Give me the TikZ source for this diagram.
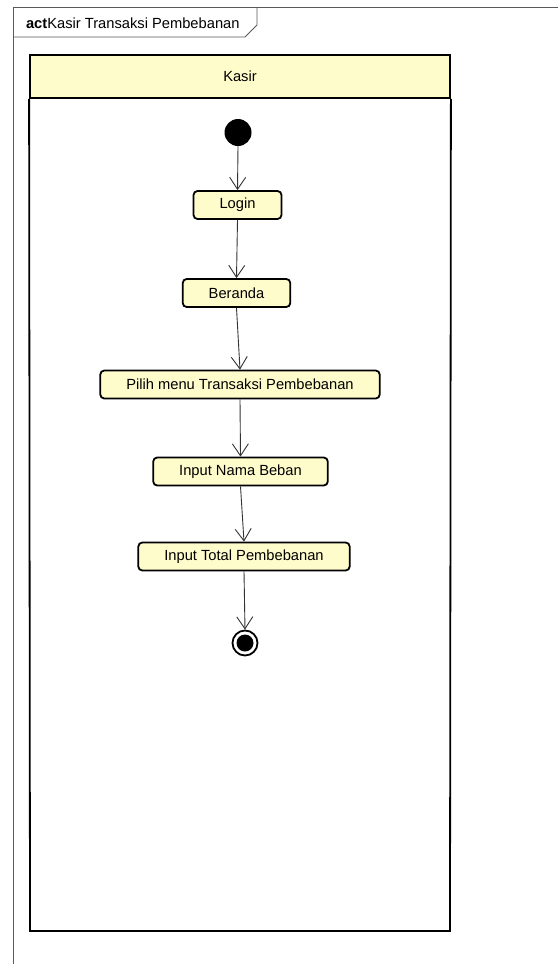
\documentclass[tikz,border=0pt]{standalone}
\usepackage{fontspec}
\setmainfont{Liberation Sans}
\usetikzlibrary{arrows.meta}

\definecolor{actfill}{HTML}{FFFCCC}

\tikzset{
  every node/.style={font=\fontsize{14.7}{17}\selectfont},
  frame/.style={draw=black!65, line width=0.8pt},
  lane/.style={draw, line width=1.8pt},
  action/.style={draw, rounded corners=4pt, fill=actfill, line width=1.8pt,
    minimum height=28pt, inner xsep=26pt},
  startstate/.style={circle, fill=black, minimum size=27pt, inner sep=0pt},
  endstate/.style={circle, draw, line width=1.8pt, minimum size=25pt, inner sep=0pt,
    path picture={\fill (path picture bounding box.center) circle (8.5pt);}},
  flow/.style={draw=black!80, line width=0.9pt,
    -{Straight Barb[length=12pt,width=16pt]}}
}

\begin{document}
\begin{tikzpicture}[x=1pt,y=-1pt]
\useasboundingbox (0,0) rectangle (558,964);

% frame
\draw[frame] (13,964) -- (13,7) -- (558,7);
\draw[frame] (13,37) -- (245,37) -- (257,25) -- (257,7);
\node[anchor=west] (title) at (22.5,23) {\textbf{act}Kasir Transaksi Pembebanan};

% swimlane
\node[lane, fill=actfill, minimum width=420pt, minimum height=43pt] (kasir) at (240,76.5) {Kasir};
\draw[lane] (kasir.south west) -- (30,931) -- (450,931) -- (kasir.south east);

% states
\node[startstate] (mulai) at (238,132.5) {};
\node[action] (login) at (237.5,205) {Login};
\node[action] (beranda) at (236.5,293) {Beranda};
\node[action] (pilih) at (240,384.5) {Pilih menu Transaksi Pembebanan};
\node[action] (nama) at (240.5,471.5) {Input Nama Beban};
\node[action] (total) at (244,556.5) {Input Total Pembebanan};
\node[endstate] (selesai) at (245,643) {};

\draw[flow] (mulai.south) -- (login.north);
\draw[flow] (login.south) -- (beranda.north);
\draw[flow] (beranda.south) -- (pilih.north);
\draw[flow] (pilih.south) -- (nama.north);
\draw[flow] (nama.south) -- (total.north);
\draw[flow] (total.south) -- (selesai.north);
\end{tikzpicture}
\end{document}
